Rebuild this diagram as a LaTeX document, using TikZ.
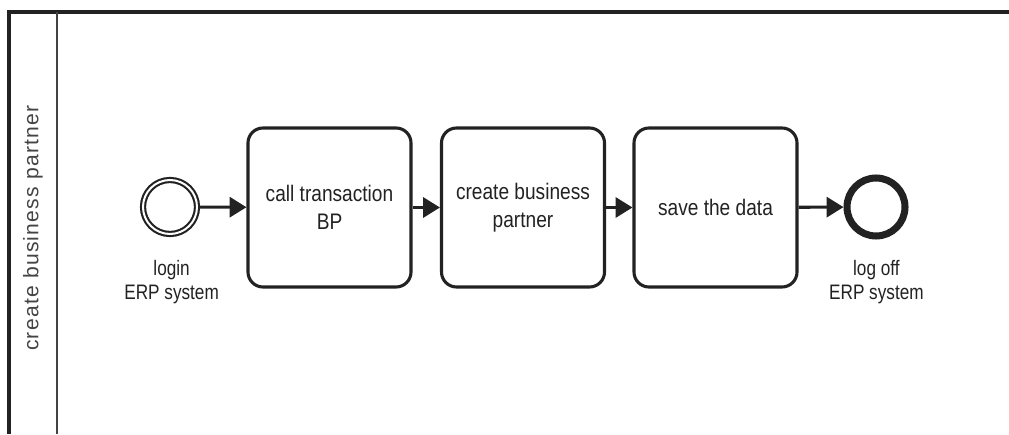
\documentclass[tikz,border=0pt]{standalone}
\usepackage{fontspec}
\setmainfont{Liberation Sans}
\newfontfamily\tasksf{Liberation Sans}[FakeStretch=0.85]
\newfontfamily\labelsf{Liberation Sans}[FakeStretch=0.82]
\newfontfamily\lanesf{Liberation Sans}[LetterSpace=6]
\usetikzlibrary{arrows.meta}
\definecolor{ink}{HTML}{222222}
\definecolor{lanegrey}{HTML}{444444}

\begin{document}
\begin{tikzpicture}[
    task/.style={draw=ink, line width=2.2pt, rounded corners=0.375cm,
      minimum width=4.075cm, minimum height=3.975cm, inner sep=0pt,
      align=center, text=ink, font=\tasksf\fontsize{16}{20}\selectfont},
    startev/.style={circle, draw=ink, line width=1.5pt, double, double distance=0.05cm,
      minimum size=1.35cm, inner sep=0pt},
    endev/.style={circle, draw=ink, line width=5pt, minimum size=1.45cm, inner sep=0pt},
    evlabel/.style={align=center, text=ink, font=\labelsf\fontsize{14.9}{17}\selectfont},
    flow/.style={draw=ink, line width=2.2pt, -{Triangle[length=0.42cm,width=0.5cm]}}
  ]
    \useasboundingbox (0,0) rectangle (25.225,10.85);
    % pool and lane
    \draw[ink, line width=2.4pt] (25.225,10.55) -- (0.225,10.55) -- (0.225,0);
    \draw[lanegrey, line width=1.6pt] (1.425,10.55) -- (1.425,0);
    \node[rotate=90, text=lanegrey, font=\lanesf\fontsize{15}{17}\selectfont] (lane) at (0.825,5.15) {create business partner};

    % events and tasks
    \node[startev] (login) at (4.25,5.675) {};
    \node[task] (callbp) at (8.2375,5.6625) {call transaction\\BP};
    \node[task] (createbp) at (13.075,5.6625) {create business\\partner};
    \node[task] (save) at (17.8875,5.6625) {save the data};
    \node[endev] (logoff) at (21.9,5.675) {};

    \node[evlabel] (loginlbl) at (4.29,3.8) {login\\ERP system};
    \node[evlabel] (logofflbl) at (21.91,3.8) {log off\\ERP system};

    % sequence flows
    \draw[flow] (login) -- (callbp);
    \draw[flow] (callbp) -- (createbp);
    \draw[flow] (createbp) -- (save);
    \draw[flow] (save) -- (logoff);
\end{tikzpicture}
\end{document}
